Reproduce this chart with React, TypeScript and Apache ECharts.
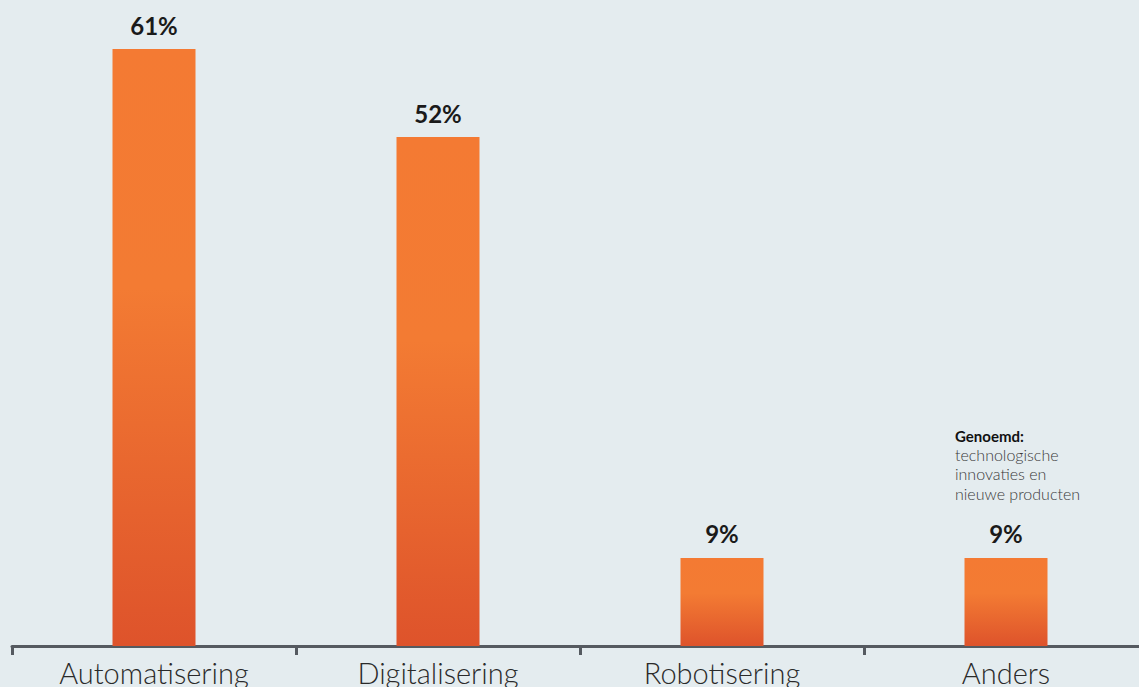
import React, { useEffect, useRef } from "react";
import * as echarts from "echarts";

const categories = ["Automatisering", "Digitalisering", "Robotisering", "Anders"];
const values = [61, 52, 9, 9];
const noteTitle = "Genoemd:";
const noteLines = ["technologische", "innovaties en", "nieuwe producten"];

export default function App() {
  const ref = useRef<HTMLDivElement>(null);
  useEffect(() => {
    const chart = echarts.init(ref.current!, null, { renderer: "svg" });
    const grad = new echarts.graphic.LinearGradient(0, 0, 0, 1, [
      { offset: 0, color: "#F47A33" },
      { offset: 0.4, color: "#F37B33" },
      { offset: 1, color: "#DE532B" },
    ]);
    chart.setOption({
      animation: false,
      backgroundColor: "#E4ECEF",
      grid: { left: 12, width: 1136, top: 49, bottom: 41, containLabel: false, outerBoundsMode: "none" },
      xAxis: {
        type: "category",
        data: categories,
        boundaryGap: true,
        axisLine: { lineStyle: { color: "#555A60", width: 3 } },
        axisTick: { show: true, length: 9, lineStyle: { color: "#555A60", width: 3 } },
        axisLabel: {
          color: "#2A2A2A",
          fontFamily: "Lato",
          fontWeight: 300,
          fontSize: 29,
          margin: 12,
        },
      },
      yAxis: {
        type: "value",
        min: 0,
        max: 61,
        show: false,
        splitLine: { show: false },
      },
      series: [
        {
          type: "bar",
          data: values,
          barWidth: 83,
          itemStyle: { color: grad },
          label: {
            show: true,
            position: "top",
            distance: 12,
            formatter: "{c}%",
            color: "#1A1A1A",
            fontFamily: "Lato",
            fontWeight: 700,
            fontSize: 24,
          },
        },
      ],
      graphic: [
        {
          type: "text",
          left: 955,
          top: 428,
          style: { text: noteTitle, fontFamily: "Lato", fontWeight: 700, fontSize: 15, fill: "#111" },
        },
        ...noteLines.map((line, i) => ({
          type: "text",
          left: 955,
          top: 446 + i * 19.5,
          style: {
            text: line,
            fontFamily: "Lato",
            fontWeight: 300,
            fontSize: 16,
            fill: "#3A3A3A",
          },
        })),
      ],
    });
    return () => chart.dispose();
  }, []);
  return <div ref={ref} style={{ width: 1139, height: 687, position: "absolute", left: 0, top: 0 }} />;
}
